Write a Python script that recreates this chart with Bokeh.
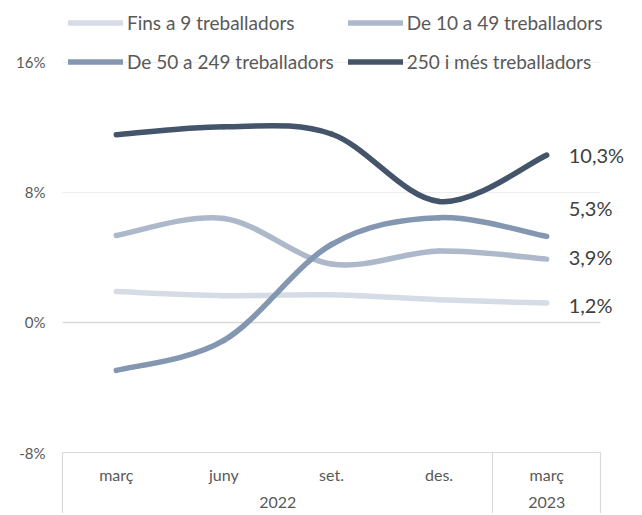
import numpy as np
from bokeh.plotting import figure
from bokeh.models import (ColumnDataSource, FixedTicker, LinearAxis, Range1d,
                          Legend, LegendItem, LabelSet)
from bokeh.core.properties import value
from bokeh.embed import file_html
from bokeh.resources import INLINE

# ---- data ----
months = ["març", "juny", "set.", "des.", "març"]
years = ["2022", "2023"]
year_span = [4, 1]  # months in each year group
series_names = ["Fins a 9 treballadors", "De 10 a 49 treballadors",
                "De 50 a 249 treballadors", "250 i més treballadors"]
fins9 = [1.9, 1.65, 1.7, 1.4, 1.2]
de10_49 = [5.35, 6.4, 3.6, 4.4, 3.9]
de50_249 = [-2.95, -1.1, 4.8, 6.45, 5.3]
mes250 = [11.55, 12.05, 11.6, 7.45, 10.3]
end_labels = ["1,2%", "3,9%", "5,3%", "10,3%"]
end_label_y = [1.05, 4.05, 7.05, 10.3]
y_ticks = [-8, 0, 8, 16]
y_tick_labels = ["-8%", "0%", "8%", "16%"]

colors = ["#D6DCE5", "#ADB9CA", "#8497B0", "#44546A"]
FONT = "Lato"
TXT = "#595959"

FW = 574          # frame width (px), category area is 538 px of it
FH = 452
x_end = len(months) * FW / 538.0

p = figure(frame_width=FW, frame_height=FH,
           x_range=Range1d(0, x_end), y_range=Range1d(-8, 19.815),
           x_axis_type=None, output_backend="svg", toolbar_location=None,
           min_border_left=62, min_border_right=4, min_border_top=0,
           min_border_bottom=61)
p.outline_line_color = None
p.background_fill_color = "white"

# y axis
p.yaxis.ticker = FixedTicker(ticks=y_ticks, minor_ticks=[])
p.yaxis.major_label_overrides = {t: l for t, l in zip(y_ticks, y_tick_labels)}
p.yaxis.axis_line_color = None
p.yaxis.major_tick_line_color = None
p.yaxis.minor_tick_line_color = None
p.yaxis.major_tick_out = 0
p.yaxis.major_tick_in = 0
p.yaxis.major_label_standoff = 17
p.yaxis.major_label_text_font = FONT
p.yaxis.major_label_text_font_size = "15px"
p.yaxis.major_label_text_color = TXT
p.xgrid.visible = False
p.ygrid.visible = False

# x layout helpers
xc = [i + 0.5 for i in range(len(months))]
bounds = [0] + [int(b) for b in np.cumsum(year_span)]
year_centers = [(bounds[i] + bounds[i + 1]) / 2 for i in range(len(years))]

# horizontal gridlines limited to the category area
grid_y = [t for t in y_ticks if t != y_ticks[0]]
grid_col = ["#D9D9D9" if t == 0 else "#EEEEEE" for t in grid_y]
grid_w = [1.6 if t == 0 else 1.2 for t in grid_y]
p.segment(x0=[bounds[0]] * len(grid_y), x1=[bounds[-1]] * len(grid_y),
          y0=grid_y, y1=grid_y, line_color=grid_col, line_width=grid_w)

# x axes (months + years, table-like)
ax_m = LinearAxis(ticker=FixedTicker(ticks=xc, minor_ticks=[float(b) for b in bounds]),
                  bounds=(bounds[0], bounds[-1]))
ax_m.major_label_overrides = {x: m for x, m in zip(xc, months)}
ax_m.axis_line_color = "#D9D9D9"
ax_m.axis_line_width = 1.2
ax_m.major_tick_line_color = None
ax_m.major_tick_out = 0
ax_m.major_tick_in = 0
ax_m.minor_tick_line_color = "#D9D9D9"
ax_m.minor_tick_line_width = 1.2
ax_m.minor_tick_out = 61
ax_m.minor_tick_in = 0
ax_m.major_label_standoff = -49
ax_m.major_label_text_font = FONT
ax_m.major_label_text_font_size = "16px"
ax_m.major_label_text_color = TXT
p.add_layout(ax_m, "below")

ax_y = LinearAxis(ticker=FixedTicker(ticks=year_centers, minor_ticks=[]))
ax_y.major_label_overrides = {x: y for x, y in zip(year_centers, years)}
ax_y.axis_line_color = None
ax_y.major_tick_line_color = None
ax_y.minor_tick_line_color = None
ax_y.major_tick_out = 0
ax_y.major_tick_in = 0
ax_y.major_label_standoff = 10
ax_y.major_label_text_font = FONT
ax_y.major_label_text_font_size = "16px"
ax_y.major_label_text_color = TXT
p.add_layout(ax_y, "below")


def smooth_source(vals):
    x = np.array(xc, float)
    y = np.array(vals, float)
    xp = np.concatenate([[x[0]], x, [x[-1]]])
    yp = np.concatenate([[y[0]], y, [y[-1]]])
    n = len(x)
    k = 6.0
    cx0 = xp[1:n] + (xp[2:n + 1] - xp[0:n - 1]) / k
    cy0 = yp[1:n] + (yp[2:n + 1] - yp[0:n - 1]) / k
    cx1 = xp[2:n + 1] - (xp[3:n + 2] - xp[1:n]) / k
    cy1 = yp[2:n + 1] - (yp[3:n + 2] - yp[1:n]) / k
    return ColumnDataSource(dict(x0=x[:-1], y0=y[:-1], x1=x[1:], y1=y[1:],
                                 cx0=cx0, cy0=cy0, cx1=cx1, cy1=cy1))


items = []
for name, vals, col in zip(series_names, [fins9, de10_49, de50_249, mes250], colors):
    src = smooth_source(vals)
    r = p.bezier(x0="x0", y0="y0", x1="x1", y1="y1", cx0="cx0", cy0="cy0",
                 cx1="cx1", cy1="cy1", source=src, line_color=col, line_width=5.5,
                 line_cap="round")
    items.append(LegendItem(label=name, renderers=[r]))

LG_SP, LG_H = 14, 25
legend_h = 2 * LG_H + LG_SP
legend = Legend(items=items, ncols=2, orientation="horizontal",
                location=(6, int(round(FH - 10.5 - legend_h))))
legend.padding = 0
legend.margin = 0
legend.spacing = LG_SP
legend.label_standoff = 4
legend.glyph_width = 55
legend.glyph_height = LG_H
legend.label_height = LG_H
legend.label_width = 205
legend.label_text_font = FONT
legend.label_text_font_size = "19px"
legend.label_text_color = TXT
legend.border_line_color = None
legend.background_fill_alpha = 0
p.add_layout(legend)

lab_src = ColumnDataSource(dict(x=[xc[-1]] * len(end_labels), y=end_label_y, text=end_labels))
p.add_layout(LabelSet(x="x", y="y", text="text", source=lab_src, x_offset=22,
                      text_baseline="middle", text_align="left",
                      text_font=value(FONT), text_font_size=value("20px"),
                      text_color="#404040"))

open("out.html", "w").write(file_html(p, INLINE))
